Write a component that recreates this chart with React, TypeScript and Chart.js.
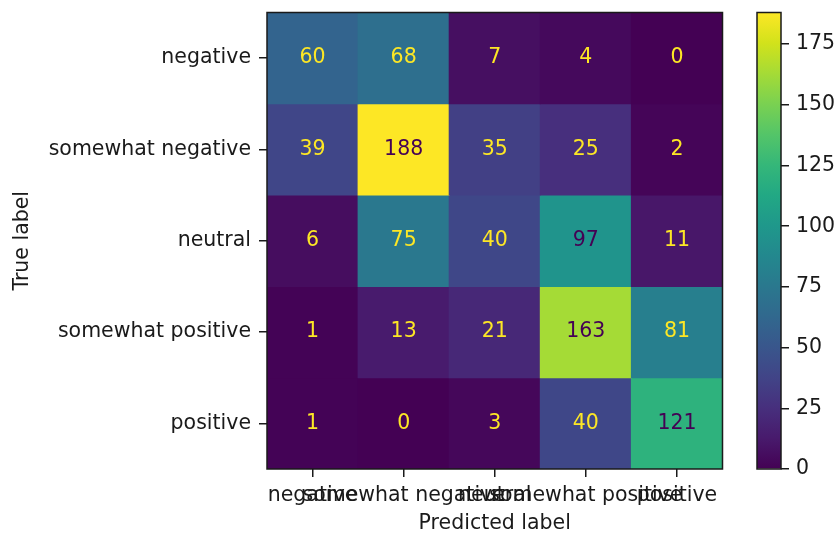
import { useEffect, useRef } from "react";
import { Chart, registerables } from "chart.js";

Chart.register(...registerables);

// Class names shared by both axes of the confusion matrix
const trueLabels = ["negative", "somewhat negative", "neutral", "somewhat positive", "positive"];
const predictedLabels = ["negative", "somewhat negative", "neutral", "somewhat positive", "positive"];

// Counts per true class (rows), in predicted-class order (columns)
const rowNegative = [60, 68, 7, 4, 0];
const rowSomewhatNegative = [39, 188, 35, 25, 2];
const rowNeutral = [6, 75, 40, 97, 11];
const rowSomewhatPositive = [1, 13, 21, 163, 81];
const rowPositive = [1, 0, 3, 40, 121];

const colorbarTicks = [0, 25, 50, 75, 100, 125, 150, 175];

const matrix = [rowNegative, rowSomewhatNegative, rowNeutral, rowSomewhatPositive, rowPositive];

const VIRIDIS = [
  "#440154", "#481a6c", "#472f7d", "#414487", "#39568c", "#31688e", "#2a788e", "#23888e",
  "#1f988b", "#22a884", "#35b779", "#54c568", "#7ad151", "#a5db36", "#d2e21b", "#fde725",
];

const hexToRgb = (h: string) => [1, 3, 5].map((i) => parseInt(h.slice(i, i + 2), 16));

function viridis(t: number): string {
  const x = Math.min(1, Math.max(0, t)) * (VIRIDIS.length - 1);
  const i = Math.min(VIRIDIS.length - 2, Math.floor(x));
  const f = x - i;
  const a = hexToRgb(VIRIDIS[i]);
  const b = hexToRgb(VIRIDIS[i + 1]);
  const c = a.map((v, k) => Math.round(v + (b[k] - v) * f));
  return `rgb(${c[0]},${c[1]},${c[2]})`;
}

const INK = "#1a1a1a";
const FONT_FAMILY = "'DejaVu Sans', sans-serif";
const FONT_SIZE = 20.5;
const font = { family: FONT_FAMILY, size: FONT_SIZE };

const allValues = matrix.flat();
const vmin = Math.min(...allValues);
const vmax = Math.max(...allValues);
const thresh = (vmin + vmax) / 2;

// Keep the plot box exactly where the layout padding puts it
const noScalePadding = (s: any) => {
  s.paddingTop = 0;
  s.paddingBottom = 0;
  s.paddingLeft = 0;
  s.paddingRight = 0;
};

const framePlugin = {
  id: "frame",
  afterDraw(chart: any) {
    const { ctx, chartArea } = chart;
    ctx.save();
    ctx.strokeStyle = INK;
    ctx.lineWidth = 1.5;
    ctx.strokeRect(chartArea.left, chartArea.top, chartArea.right - chartArea.left, chartArea.bottom - chartArea.top);
    ctx.restore();
  },
};

const cellValuePlugin = {
  id: "cellValues",
  afterDatasetsDraw(chart: any) {
    const ctx = chart.ctx;
    ctx.save();
    ctx.font = `${FONT_SIZE}px ${FONT_FAMILY}`;
    ctx.textAlign = "center";
    ctx.textBaseline = "middle";
    matrix.forEach((row, r) => {
      const meta = chart.getDatasetMeta(r);
      row.forEach((v, j) => {
        const el: any = meta.data[j];
        const cx = el.x;
        const cy = (el.y + el.base) / 2;
        ctx.fillStyle = v < thresh ? viridis(1) : viridis(0);
        ctx.fillText(String(v), cx, cy);
      });
    });
    ctx.restore();
  },
};

export default function App() {
  const mainRef = useRef<HTMLCanvasElement>(null);
  const barRef = useRef<HTMLCanvasElement>(null);

  useEffect(() => {
    if (!mainRef.current || !barRef.current) return;

    const main = new Chart(mainRef.current, {
      type: "bar",
      data: {
        labels: predictedLabels,
        datasets: matrix.map((row, r) => ({
          label: trueLabels[r],
          data: row.map(() => [r - 0.5, r + 0.5]),
          backgroundColor: row.map((v) => viridis((v - vmin) / (vmax - vmin))),
          borderWidth: 0,
          barPercentage: 1,
          categoryPercentage: 1,
          grouped: false,
          inflateAmount: 0.5,
        })) as any,
      },
      options: {
        animation: false,
        responsive: false,
        devicePixelRatio: 1,
        layout: { padding: { left: 0, top: 12.5, right: 113.5, bottom: 0 } },
        plugins: { legend: { display: false }, tooltip: { enabled: false } },
        scales: {
          x: {
            type: "category",
            offset: true,
            grid: { offset: false, drawOnChartArea: false, tickLength: 8, tickColor: INK, lineWidth: 1.5 },
            border: { display: false },
            ticks: { autoSkip: false, maxRotation: 0, minRotation: 0, color: INK, font, padding: 6 },
            title: { display: true, text: "Predicted label", color: INK, font, padding: { top: 0, bottom: -1 } },
            afterFit: (s: any) => {
              s.height = 66;
              noScalePadding(s);
            },
          },
          y: {
            type: "linear",
            reverse: true,
            min: -0.5,
            max: trueLabels.length - 0.5,
            afterBuildTicks: (s: any) => {
              s.ticks = trueLabels.map((_, i) => ({ value: i }));
            },
            grid: { drawOnChartArea: false, tickLength: 8, tickColor: INK, lineWidth: 1.5 },
            border: { display: false },
            ticks: {
              color: INK,
              font,
              padding: 8,
              callback: (v: any) => trueLabels[Number(v)] ?? "",
            },
            title: { display: true, text: "True label", color: INK, font, padding: { top: 10.7, bottom: 0 } },
            afterFit: (s: any) => {
              s.width = 267;
              noScalePadding(s);
            },
          },
        },
      } as any,
      plugins: [cellValuePlugin, framePlugin],
    });

    const bar = new Chart(barRef.current, {
      type: "bar",
      data: {
        labels: [""],
        datasets: [
          {
            data: [[vmin, vmax]] as any,
            backgroundColor: (c: any) => {
              const chart = c.chart;
              if (!chart.chartArea) return viridis(0.5);
              const y = chart.scales.y;
              const g = chart.ctx.createLinearGradient(0, y.getPixelForValue(vmin), 0, y.getPixelForValue(vmax));
              VIRIDIS.forEach((h, i) => g.addColorStop(i / (VIRIDIS.length - 1), h));
              return g;
            },
            borderWidth: 0,
            barPercentage: 1,
            categoryPercentage: 1,
          },
        ],
      },
      options: {
        animation: false,
        responsive: false,
        devicePixelRatio: 1,
        layout: { padding: { left: 757, top: 12.5, right: 0, bottom: 66 } },
        plugins: { legend: { display: false }, tooltip: { enabled: false } },
        scales: {
          x: { display: false },
          y: {
            position: "right",
            min: vmin,
            max: vmax,
            afterBuildTicks: (s: any) => {
              s.ticks = colorbarTicks.map((v) => ({ value: v }));
            },
            grid: { drawOnChartArea: false, tickLength: 8, tickColor: INK, lineWidth: 1.5 },
            border: { display: false },
            ticks: { color: INK, font, padding: 7 },
            afterFit: (s: any) => {
              s.width = 55;
              noScalePadding(s);
            },
          },
        },
      } as any,
      plugins: [framePlugin],
    });

    return () => {
      main.destroy();
      bar.destroy();
    };
  }, []);

  return (
    <div style={{ position: "absolute", left: 0, top: 0, width: 836, height: 535, background: "#fff" }}>
      <canvas ref={mainRef} width={836} height={535} style={{ position: "absolute", left: 0, top: 0 }} />
      <canvas ref={barRef} width={836} height={535} style={{ position: "absolute", left: 0, top: 0 }} />
    </div>
  );
}
